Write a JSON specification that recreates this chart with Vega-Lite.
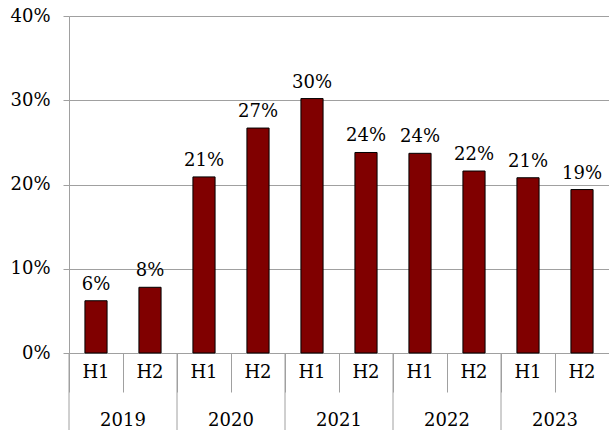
{
  "$schema": "https://vega.github.io/schema/vega-lite/v6.json",
  "width": 540,
  "height": 337,
  "autosize": {"type": "none"},
  "padding": {"left": 69, "top": 16, "right": 0, "bottom": 77},
  "background": "white",
  "config": {
    "view": {"stroke": null},
    "font": "DejaVu Serif",
    "axis": {"labelFont": "DejaVu Serif", "labelFontSize": 18, "labelColor": "black", "domainColor": "#a0a0a0", "tickColor": "#a0a0a0", "gridColor": "#a0a0a0", "title": null},
    "text": {"font": "DejaVu Serif"}
  },
  "layer": [
    {
      "data": {"values": [
        {"period": "2019 H1", "value": 0.062},
        {"period": "2019 H2", "value": 0.078},
        {"period": "2020 H1", "value": 0.209},
        {"period": "2020 H2", "value": 0.267},
        {"period": "2021 H1", "value": 0.302},
        {"period": "2021 H2", "value": 0.238},
        {"period": "2022 H1", "value": 0.237},
        {"period": "2022 H2", "value": 0.216},
        {"period": "2023 H1", "value": 0.208},
        {"period": "2023 H2", "value": 0.194}
      ]},
      "encoding": {
        "x": {
          "field": "period", "type": "nominal", "sort": null,
          "scale": {"paddingInner": 0, "paddingOuter": 0},
          "axis": {"orient": "bottom", "labelAngle": 0, "labelExpr": "substring(datum.label, 5)", "bandPosition": 0, "tickSize": 39, "labelPadding": -29, "domainColor": "#a0a0a0"}
        },
        "y": {
          "field": "value", "type": "quantitative",
          "scale": {"domain": [0, 0.4], "nice": false},
          "axis": {"values": [0, 0.1, 0.2, 0.3, 0.4], "format": ".0%", "tickSize": 6, "labelPadding": 13, "grid": true}
        }
      },
      "layer": [
        {"mark": {"type": "bar", "width": {"band": 0.41}, "fill": "#800000", "stroke": "black", "strokeWidth": 1}},
        {"mark": {"type": "text", "fontSize": 18, "baseline": "alphabetic", "dy": -11, "color": "black"},
         "encoding": {"text": {"field": "value", "type": "quantitative", "format": ".0%"}}}
      ]
    },
    {
      "data": {"values": [
        {"year": "2019"}, {"year": "2020"}, {"year": "2021"}, {"year": "2022"}, {"year": "2023"}
      ]},
      "encoding": {
        "x": {
          "field": "year", "type": "nominal", "sort": null,
          "scale": {"paddingInner": 0, "paddingOuter": 0},
          "axis": null
        }
      },
      "layer": [
        {"mark": {"type": "text", "fontSize": 18, "baseline": "alphabetic", "dy": 73, "color": "black"},
         "encoding": {"y": {"datum": 0, "type": "quantitative"}, "text": {"field": "year"}}},
        {"mark": {"type": "rule", "color": "#a0a0a0", "strokeWidth": 1},
         "encoding": {"x": {"field": "year", "type": "nominal", "sort": null, "bandPosition": 0, "axis": null},
                      "y": {"datum": 0, "type": "quantitative"}, "y2": {"datum": -0.0914}}}
      ]
    }
  ],
  "resolve": {"scale": {"x": "independent"}, "axis": {"x": "independent"}}
}
